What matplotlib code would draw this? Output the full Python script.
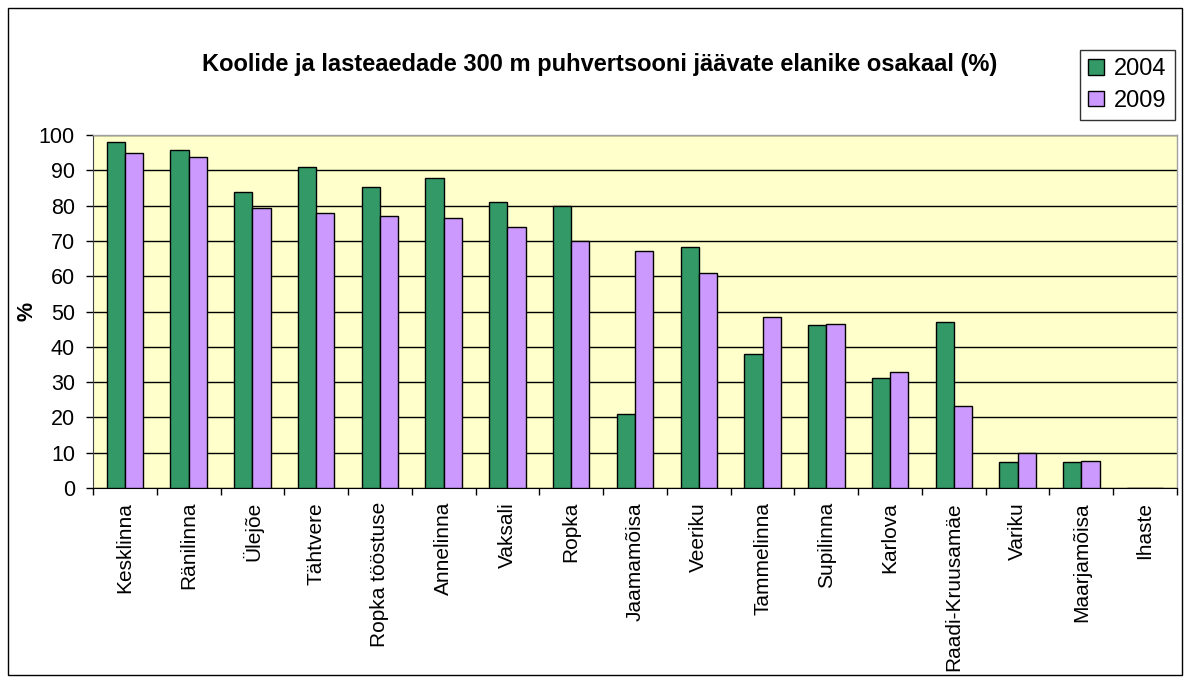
import matplotlib
matplotlib.use("Agg")
import matplotlib.pyplot as plt
import numpy as np
from matplotlib.patches import Rectangle

categories = ["Kesklinna", "Ränilinna", "Ülejõe", "Tähtvere", "Ropka tööstuse",
              "Annelinna", "Vaksali", "Ropka", "Jaamamõisa", "Veeriku",
              "Tammelinna", "Supilinna", "Karlova", "Raadi-Kruusamäe",
              "Variku", "Maarjamõisa", "Ihaste"]
values_2004 = [98.1, 95.8, 83.9, 90.9, 85.2, 87.8, 81.1, 79.8, 21.0, 68.2,
               38.0, 46.2, 31.1, 47.0, 7.3, 7.3, 0]
values_2009 = [95.0, 93.7, 79.3, 78.0, 77.1, 76.6, 73.9, 70.1, 67.2, 60.9,
               48.4, 46.6, 32.8, 23.3, 10.0, 7.6, 0]
series_names = ["2004", "2009"]
yticks = list(range(0, 101, 10))
title = "Koolide ja lasteaedade 300 m puhvertsooni jäävate elanike osakaal (%)"

plt.rcParams['font.family'] = ['Liberation Sans', 'DejaVu Sans']

W, H = 1188, 681
fig = plt.figure(figsize=(W / 100, H / 100), dpi=100)
ax = fig.add_axes([93 / W, 1 - 488 / H, (1177 - 93) / W, (488 - 135) / H])
ax.set_facecolor("#FFFFCC")

x = np.arange(len(categories))
w = 0.286
b1 = ax.bar(x - w / 2, values_2004, w, color="#339966", edgecolor="black",
            linewidth=1.0, label=series_names[0], zorder=3)
b2 = ax.bar(x + w / 2, values_2009, w, color="#CC99FF", edgecolor="black",
            linewidth=1.0, label=series_names[1], zorder=3)

ax.set_xlim(-0.5, len(categories) - 0.5)
ax.set_ylim(0, 100)
ax.set_yticks(yticks)
ax.set_yticklabels([str(v) for v in yticks], fontsize=15.5)
ax.yaxis.grid(True, color="black", linewidth=1.0, zorder=1)
ax.set_axisbelow(True)

ax.set_xticks(x)
ax.set_xticklabels(categories, rotation=90, fontsize=15)
ax.set_xticks(np.arange(len(categories) + 1) - 0.5, minor=True)
ax.tick_params(axis="x", which="major", length=0, pad=10)
ax.tick_params(axis="x", which="minor", length=5, width=1, color="black", direction="out")
ax.tick_params(axis="y", length=5, width=1, color="black", direction="out", pad=8)

for side in ["top", "right"]:
    ax.spines[side].set_color("#A0A0A0")
    ax.spines[side].set_linewidth(1)
ax.spines["left"].set_color("#404040")
ax.spines["bottom"].set_color("black")

ax.set_ylabel("%", fontsize=15.5, fontweight="bold", labelpad=1)

fig.text(600 / W, 1 - 64 / H, title, ha="center", va="center",
         fontsize=17, fontweight="bold")

leg = fig.legend(handles=[b1, b2], labels=series_names, loc="upper right",
                 bbox_to_anchor=(1175 / W, 1 - 50 / H), fontsize=17,
                 frameon=True, fancybox=False, edgecolor="black",
                 handlelength=0.65, handleheight=0.65, handletextpad=0.45,
                 borderpad=0.35, labelspacing=0.4, borderaxespad=0)
leg.get_frame().set_linewidth(1)

fig.patches.append(Rectangle((8 / W, 6 / H), 1 - 14 / W, 1 - 14 / H,
                             transform=fig.transFigure, fill=False,
                             edgecolor="black", linewidth=1))

fig.savefig("out.png", dpi=100)
